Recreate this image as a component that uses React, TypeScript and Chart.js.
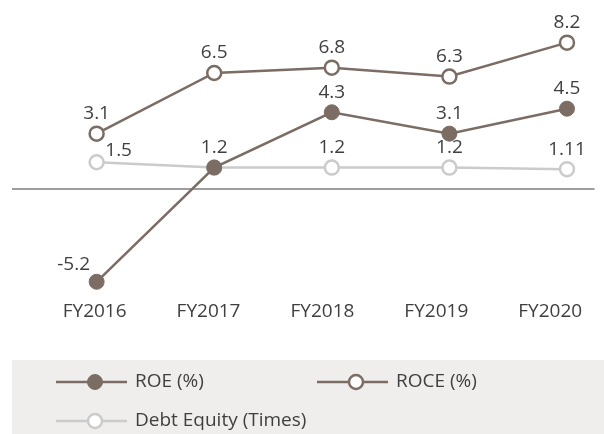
import React, { useEffect, useRef } from "react";
import { Chart, registerables } from "chart.js";

Chart.register(...registerables);

const CATEGORIES = ["FY2016", "FY2017", "FY2018", "FY2019", "FY2020"];
const ROE = [-5.2, 1.2, 4.3, 3.1, 4.5];
const ROCE = [3.1, 6.5, 6.8, 6.3, 8.2];
const DEBT_EQUITY = [1.5, 1.2, 1.2, 1.2, 1.11];
const SERIES_NAMES = ["ROE (%)", "ROCE (%)", "Debt Equity (Times)"];

const BROWN = "#7b6c64";
const LIGHT = "#cbcbcb";
const TEXT = "#3f3f3f";
const FONT = "'Open Sans', 'Noto Sans', sans-serif";

// label placement tweaks: [datasetIndex-pointIndex] -> [dx, dy] (null = hidden)
const LABEL_TWEAKS: Record<string, [number, number] | null> = {
  "0-0": [-23, -17],
  "2-0": [22, -12],
  "2-1": null,
};

const dataLabels = {
  id: "dataLabels",
  afterDatasetsDraw(chart: any) {
    const ctx = chart.ctx;
    ctx.save();
    ctx.font = `19px ${FONT}`;
    ctx.fillStyle = TEXT;
    ctx.textAlign = "center";
    ctx.textBaseline = "middle";
    chart.data.datasets.forEach((ds: any, di: number) => {
      const meta = chart.getDatasetMeta(di);
      meta.data.forEach((pt: any, i: number) => {
        const key = `${di}-${i}`;
        let off: [number, number] | null = [0, -20];
        if (key in LABEL_TWEAKS) off = LABEL_TWEAKS[key];
        if (!off) return;
        const v = ds.data[i].y;
        ctx.fillText(String(v), pt.x + off[0], pt.y + off[1]);
      });
    });
    ctx.restore();
  },
};

const zeroLine = {
  id: "zeroLine",
  beforeDatasetsDraw(chart: any) {
    const { ctx, chartArea, scales } = chart;
    const y = scales.y.getPixelForValue(0);
    ctx.save();
    ctx.strokeStyle = "#9d9d9d";
    ctx.lineWidth = 2;
    ctx.beginPath();
    ctx.moveTo(chartArea.left, y);
    ctx.lineTo(chartArea.right, y);
    ctx.stroke();
    ctx.restore();
  },
};

const customLegend = {
  id: "customLegend",
  afterDraw(chart: any) {
    const ctx = chart.ctx;
    const w = chart.width;
    ctx.save();
    ctx.fillStyle = "#efeeec";
    ctx.fillRect(12, 360, w - 12, 74);
    const items = [
      { x: 56, y: 382, ds: 0 },
      { x: 317, y: 382, ds: 1 },
      { x: 56, y: 421, ds: 2 },
    ];
    items.forEach((it) => {
      const ds = chart.data.datasets[it.ds];
      ctx.strokeStyle = ds.borderColor;
      ctx.lineWidth = 2.5;
      ctx.beginPath();
      ctx.moveTo(it.x, it.y);
      ctx.lineTo(it.x + 71, it.y);
      ctx.stroke();
      ctx.beginPath();
      ctx.arc(it.x + 39, it.y, ds.pointRadius, 0, Math.PI * 2);
      ctx.fillStyle = ds.pointBackgroundColor;
      ctx.fill();
      ctx.lineWidth = ds.pointBorderWidth;
      ctx.strokeStyle = ds.pointBorderColor;
      ctx.stroke();
      ctx.fillStyle = TEXT;
      ctx.font = `19px ${FONT}`;
      ctx.textAlign = "left";
      ctx.textBaseline = "middle";
      ctx.fillText(ds.label, it.x + 79, it.y);
    });
    ctx.restore();
  },
};

export default function App() {
  const ref = useRef<HTMLCanvasElement>(null);
  useEffect(() => {
    if (!ref.current) return;
    const toXY = (arr: number[]) => arr.map((v, i) => ({ x: i, y: v }));
    const chart = new Chart(ref.current, {
      type: "line",
      data: {
        datasets: [
          {
            label: SERIES_NAMES[0],
            data: toXY(ROE),
            borderColor: BROWN,
            borderWidth: 2.5,
            pointRadius: 7.5,
            pointBackgroundColor: BROWN,
            pointBorderColor: BROWN,
            pointBorderWidth: 1,
            tension: 0,
          },
          {
            label: SERIES_NAMES[1],
            data: toXY(ROCE),
            borderColor: BROWN,
            borderWidth: 2.5,
            pointRadius: 7,
            pointBackgroundColor: "#ffffff",
            pointBorderColor: BROWN,
            pointBorderWidth: 2.5,
            tension: 0,
          },
          {
            label: SERIES_NAMES[2],
            data: toXY(DEBT_EQUITY),
            borderColor: LIGHT,
            borderWidth: 2.5,
            pointRadius: 7,
            pointBackgroundColor: "#ffffff",
            pointBorderColor: LIGHT,
            pointBorderWidth: 2.5,
            tension: 0,
          },
        ],
      } as any,
      options: {
        animation: false,
        responsive: false,
        devicePixelRatio: 1,
        layout: { padding: { left: 12, right: 0, top: 10, bottom: 105.6 } },
        plugins: { legend: { display: false }, tooltip: { enabled: false } },
        scales: {
          x: { type: "linear", display: false, min: -0.7197, max: 4.234 },
          xl: {
            type: "linear",
            position: "bottom",
            min: -0.7257,
            max: 4.389,
            grid: { display: false, drawTicks: false, tickLength: 0 },
            border: { display: false },
            afterBuildTicks: (s: any) => {
              s.ticks = CATEGORIES.map((_, i) => ({ value: i }));
            },
            ticks: {
              padding: 5.6,
              color: TEXT,
              font: { family: FONT, size: 19 },
              autoSkip: false,
              maxRotation: 0,
              callback: (v: any) => CATEGORIES[v] ?? "",
            },
          },
          y: { type: "linear", display: false, min: -5.907, max: 10.03 },
        },
      } as any,
      plugins: [zeroLine, dataLabels, customLegend],
    });
    return () => chart.destroy();
  }, []);
  return (
    <canvas
      ref={ref}
      width={604}
      height={434}
      style={{ position: "fixed", left: 0, top: 0, display: "block" }}
    />
  );
}
